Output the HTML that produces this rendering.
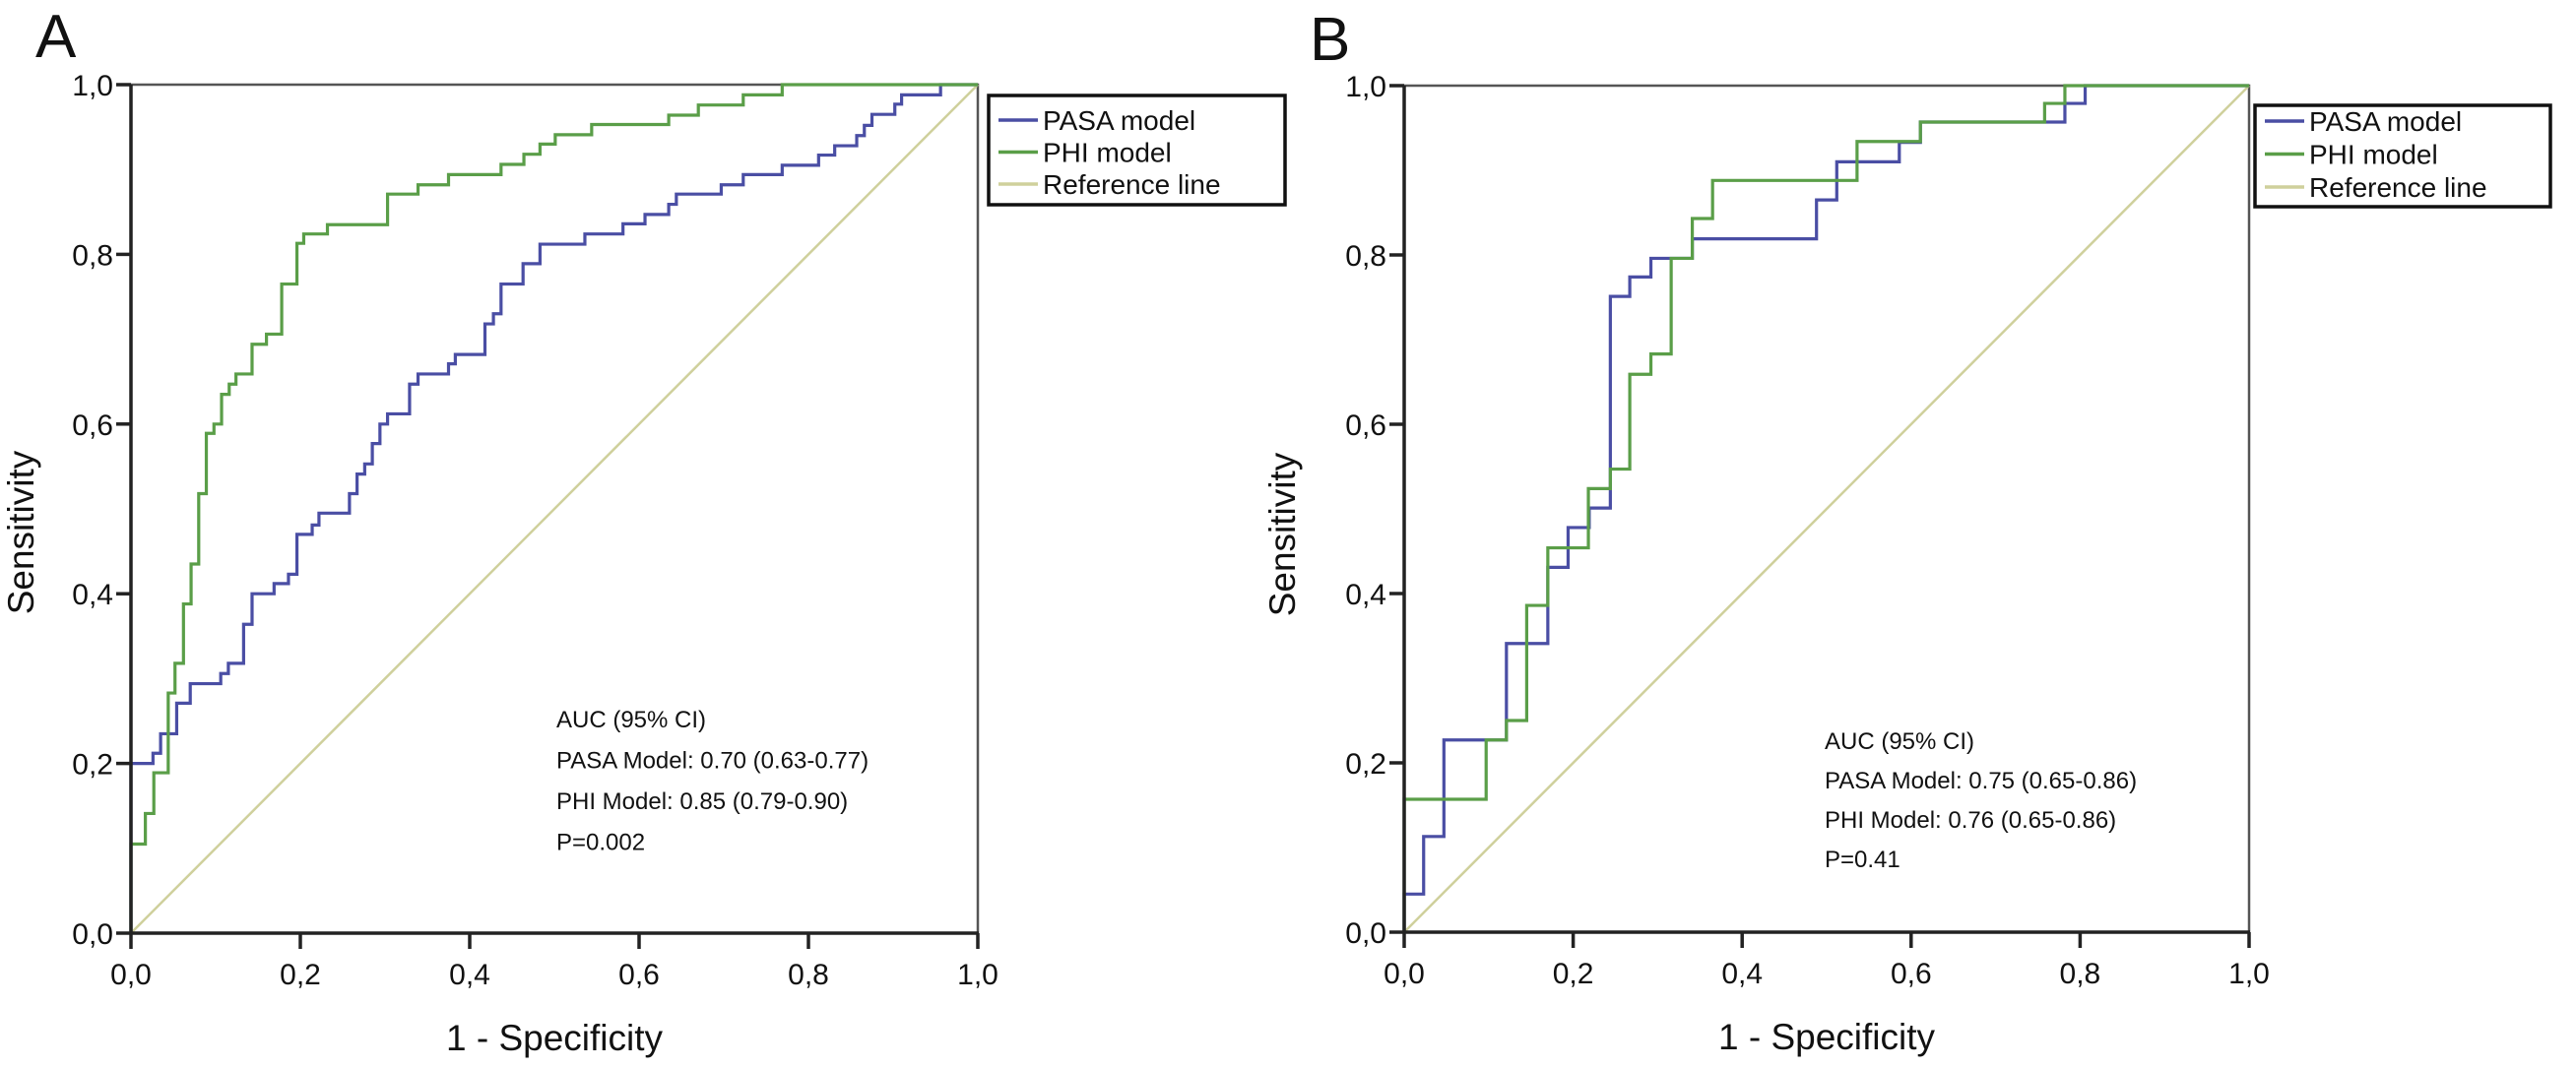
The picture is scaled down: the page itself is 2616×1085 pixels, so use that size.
<!DOCTYPE html>
<html>
<head>
<meta charset="utf-8">
<style>
html,body{margin:0;padding:0;background:#fff;}
svg{display:block;}
text{font-family:"Liberation Sans",Arial,sans-serif;fill:#111;}
</style>
</head>
<body>
<svg id="chart" width="2616" height="1085" viewBox="0 0 2616 1085" xmlns="http://www.w3.org/2000/svg">
  <rect x="0" y="0" width="2616" height="1085" fill="#fff"/>
  <text x="36" y="58" font-size="62">A</text>
  <text x="1330" y="61" font-size="62">B</text>
  <g id="panelA"></g>
  <g id="panelB"></g>
</svg>
<script>
// Panel A data (false positive rate at each step, sensitivity after step)
const phiA_fpr = [0,0.017,0.027,0.044,0.052,0.062,0.071,0.080,0.089,0.098,0.107,0.116,0.124,0.143,0.160,0.178,0.196,0.204,0.232,0.303,0.339,0.375,0.437,0.464,0.483,0.501,0.544,0.635,0.670,0.723,0.769];
const phiA_tpr = [0.105,0.141,0.189,0.283,0.318,0.388,0.435,0.518,0.589,0.600,0.635,0.647,0.659,0.694,0.706,0.765,0.813,0.824,0.835,0.871,0.882,0.894,0.906,0.918,0.930,0.941,0.953,0.964,0.976,0.988,1.0];
const pasaA_fpr = [0,0.026,0.035,0.054,0.070,0.106,0.115,0.133,0.143,0.169,0.186,0.196,0.214,0.222,0.258,0.267,0.276,0.285,0.294,0.303,0.329,0.339,0.375,0.383,0.418,0.428,0.437,0.463,0.483,0.536,0.581,0.607,0.635,0.644,0.697,0.723,0.769,0.812,0.831,0.857,0.866,0.875,0.902,0.910,0.956];
const pasaA_tpr = [0.200,0.212,0.235,0.271,0.294,0.306,0.318,0.364,0.400,0.412,0.423,0.470,0.481,0.495,0.518,0.541,0.553,0.577,0.600,0.612,0.647,0.659,0.671,0.682,0.718,0.730,0.765,0.789,0.812,0.824,0.836,0.847,0.859,0.871,0.882,0.894,0.905,0.917,0.928,0.940,0.952,0.965,0.977,0.988,1.0];
// Panel B data
const pasaB_fpr = [0,0.023,0.047,0.121,0.170,0.194,0.219,0.244,0.267,0.292,0.341,0.488,0.512,0.586,0.611,0.782,0.806];
const pasaB_tpr = [0.045,0.113,0.227,0.341,0.431,0.478,0.501,0.751,0.774,0.796,0.819,0.865,0.910,0.933,0.957,0.979,1.0];
const phiB_fpr = [0,0.097,0.121,0.145,0.170,0.218,0.244,0.267,0.292,0.316,0.341,0.365,0.536,0.611,0.758,0.782];
const phiB_tpr = [0.157,0.227,0.250,0.386,0.454,0.524,0.547,0.659,0.683,0.796,0.843,0.888,0.934,0.957,0.979,1.0];
// Axis ticks
const tickValues = [0,0.2,0.4,0.6,0.8,1.0];
const tickLabels = ["0,0","0,2","0,4","0,6","0,8","1,0"];
const legendLabels = ["PASA model","PHI model","Reference line"];
const aucTextA = ["AUC (95% CI)","PASA Model: 0.70 (0.63-0.77)","PHI Model: 0.85 (0.79-0.90)","P=0.002"];
const aucTextB = ["AUC (95% CI)","PASA Model: 0.75 (0.65-0.86)","PHI Model: 0.76 (0.65-0.86)","P=0.41"];

const NS = "http://www.w3.org/2000/svg";
const BLUE = "#4a4ea4", GREEN = "#5a9e48", REF = "#cfd09c";

function mk(tag, attrs, parent) {
  const el = document.createElementNS(NS, tag);
  for (const k in attrs) el.setAttribute(k, attrs[k]);
  parent.appendChild(el);
  return el;
}

function drawPanel(g, cfg) {
  const xs = v => cfg.x0 + v * (cfg.x1 - cfg.x0);
  const ys = v => cfg.y0 - v * (cfg.y0 - cfg.y1);

  const frame = mk("path", {d:`M${xs(0)},${ys(1)} H${xs(1)} V${ys(0)}`, fill:"none", stroke:"#555", "stroke-width":2.5}, g);
  
  

  const ref = mk("line", {x1:xs(0), y1:ys(0), x2:xs(1), y2:ys(1), stroke:REF, "stroke-width":2.5}, g);
  
  

  cfg.series.forEach(s => {
    let d = `M${xs(0)},${ys(0)}`;
    for (let i = 0; i < s.fpr.length; i++) {
      d += ` H${xs(s.fpr[i])} V${ys(s.tpr[i])}`;
    }
    d += ` H${xs(1)}`;
    const p = mk("path", {d:d, fill:"none", stroke:s.color, "stroke-width":3.2, "stroke-linejoin":"miter"}, g);
    
    
  });

  const ax = mk("line", {x1:xs(0), y1:ys(0), x2:xs(0), y2:ys(1), stroke:"#222", "stroke-width":3.5}, g);
  
  
  const bx = mk("line", {x1:xs(0)-1, y1:ys(0), x2:xs(1)+1, y2:ys(0), stroke:"#222", "stroke-width":3.5}, g);
  
  

  tickValues.forEach((v, i) => {
    const yt = mk("line", {x1:xs(0)-15, y1:ys(v), x2:xs(0), y2:ys(v), stroke:"#222", "stroke-width":3.5}, g);
    
    
    const yl = mk("text", {x:xs(0)-18, y:ys(v)+11, "font-size":30, "text-anchor":"end"}, g);
    yl.textContent = tickLabels[i];
    
    
    const xt = mk("line", {x1:xs(v), y1:ys(0), x2:xs(v), y2:ys(0)+16, stroke:"#222", "stroke-width":3.5}, g);
    
    
    const xl = mk("text", {x:xs(v), y:ys(0)+52, "font-size":30, "text-anchor":"middle"}, g);
    xl.textContent = tickLabels[i];
    
    
  });

  const xt = mk("text", {x:(xs(0)+xs(1))/2, y:cfg.y0+119, "font-size":37, "text-anchor":"middle"}, g);
  xt.textContent = "1 - Specificity";
  
  

  const yt = mk("text", {x:0, y:0, "font-size":37, "text-anchor":"middle", transform:`translate(${cfg.ytx},${cfg.yty}) rotate(-90)`}, g);
  yt.textContent = "Sensitivity";
  
  

  const L = cfg.legend;
  const box = mk("rect", {x:L.x, y:L.y, width:L.w, height:L.h, fill:"#fff", stroke:"#111", "stroke-width":3.5}, g);
  
  
  const colors = [BLUE, GREEN, REF];
  legendLabels.forEach((lab, i) => {
    const cy = L.y + L.rowStart + i * L.rowGap;
    const ln = mk("line", {x1:L.x + 10, y1:cy, x2:L.x + 50, y2:cy, stroke:colors[i], "stroke-width":3.5}, g);
    
    
    const t = mk("text", {x:L.x + 55, y:cy + 10, "font-size":28}, g);
    t.textContent = lab;
    
    
  });

  cfg.auc.forEach((line, i) => {
    const t = mk("text", {x:cfg.aucX, y:cfg.aucY + i * cfg.aucGap, "font-size":24}, g);
    t.textContent = line;
    
    
  });
}

drawPanel(document.getElementById("panelA"), {
  x0:133, x1:993, y0:948, y1:86, ytx:34, yty:541,
  series:[
    {name:"pasa-model-curve", fpr:pasaA_fpr, tpr:pasaA_tpr, color:BLUE},
    {name:"phi-model-curve", fpr:phiA_fpr, tpr:phiA_tpr, color:GREEN}
  ],
  legend:{x:1004, y:97, w:301, h:111, rowStart:25, rowGap:32.5},
  auc:aucTextA, aucX:565, aucY:739, aucGap:41.5
});

drawPanel(document.getElementById("panelB"), {
  x0:1426, x1:2284, y0:947, y1:87, ytx:1315, yty:543,
  series:[
    {name:"pasa-model-curve", fpr:pasaB_fpr, tpr:pasaB_tpr, color:BLUE},
    {name:"phi-model-curve", fpr:phiB_fpr, tpr:phiB_tpr, color:GREEN}
  ],
  legend:{x:2290, y:107, w:300, h:103, rowStart:16, rowGap:33.5},
  auc:aucTextB, aucX:1853, aucY:761, aucGap:40
});
</script>
</body>
</html>
